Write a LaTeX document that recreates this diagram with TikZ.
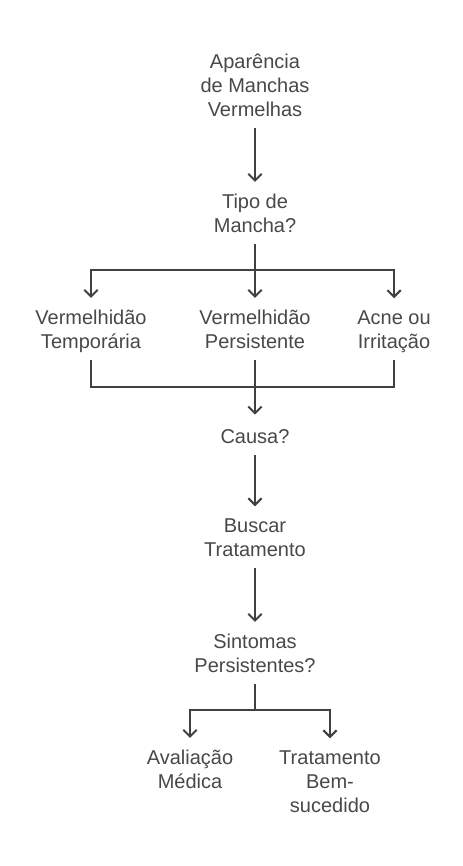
\documentclass[tikz,border=0pt]{standalone}
\usepackage{fontspec}
\setmainfont{Liberation Sans}
\usetikzlibrary{arrows.meta}
\definecolor{txt}{RGB}{72,72,72}
\definecolor{ln}{RGB}{64,64,64}
\begin{document}
\begin{tikzpicture}[x=0.75pt,y=-0.75pt]
      \useasboundingbox (0,0) rectangle (462,866);

      \begin{scope}[every node/.style={align=center, text=txt, inner xsep=0pt, inner ysep=3pt,
          execute at begin node=\strut, execute at end node=\strut,
          font=\fontsize{15}{18}\selectfont}]
        \node (1)  at (255,89)  {Aparência\\de Manchas\\Vermelhas};
        \node (2)  at (255,217) {Tipo de\\Mancha?};
        \node (3)  at (91,333)  {Vermelhidão\\Temporária};
        \node (4)  at (255,333) {Vermelhidão\\Persistente};
        \node (5)  at (394,333) {Acne ou\\Irritação};
        \node (6)  at (255,439) {Causa?};
        \node (7)  at (255,541) {Buscar\\Tratamento};
        \node (8)  at (255,657) {Sintomas\\Persistentes?};
        \node (9)  at (190,773) {Avaliação\\Médica};
        \node (10) at (330,785) {Tratamento\\Bem-\\sucedido};
      \end{scope}

      \coordinate (a) at (255,270);
      \coordinate (b) at (255,387);
      \coordinate (c) at (255,710);

      \begin{scope}[every path/.style={draw=ln, line width=1.5pt},
          arr/.style={-{Straight Barb[length=5pt,width=10pt,line width=1.5pt]}, shorten >=6pt}]
        \path (1)  edge[arr] (2);
        \draw (2) -- (a);
        \draw[arr] (a) -| (3);
        \draw[arr] (a) -- (4);
        \draw[arr] (a) -| (5);
        \draw (3) |- (b);
        \draw (5) |- (b);
        \draw (4) -- (b);
        \draw[arr] (b) -- (6);
        \path (6)  edge[arr] (7);
        \path (7)  edge[arr] (8);
        \draw (8) -- (c);
        \draw[arr] (c) -| (9);
        \draw[arr] (c) -| (10);
      \end{scope}

    \end{tikzpicture}
\end{document}
